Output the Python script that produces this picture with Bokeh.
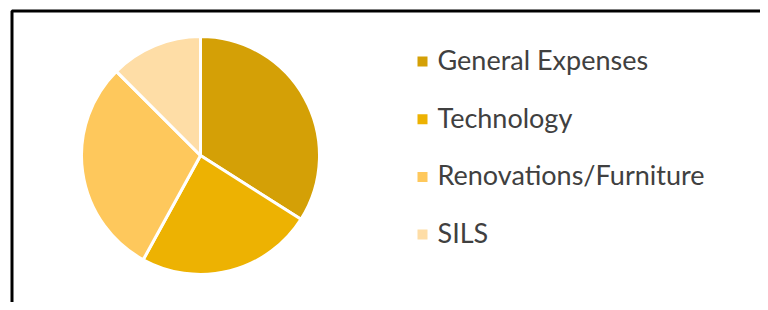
import math
from bokeh.plotting import figure
from bokeh.models import Range1d, BoxAnnotation, ColumnDataSource
from bokeh.core.properties import value
from bokeh.embed import file_html
from bokeh.resources import INLINE

categories = ["General Expenses", "Technology", "Renovations/Furniture", "SILS"]
shares = [34.0, 24.0, 29.5, 12.5]
colors = ["#D4A006", "#EDB202", "#FEC85C", "#FEDDA6"]

W, H = 760, 302
p = figure(width=W, height=H, output_backend="svg", toolbar_location=None,
           x_range=Range1d(0, W), y_range=Range1d(0, H), min_border=0,
           background_fill_color="white", border_fill_color="white")
p.axis.visible = False
p.grid.visible = False
p.outline_line_color = None

# pie
total = sum(shares)
starts, ends = [], []
cum = 0.0
for s in shares:
    starts.append(math.pi / 2 - 2 * math.pi * cum / total)
    cum += s
    ends.append(math.pi / 2 - 2 * math.pi * cum / total)

cx, cy, r = 200, 147, 119
src = ColumnDataSource(dict(cat=categories, share=shares, color=colors,
                            start=starts, end=ends,
                            x=[cx] * len(shares), y=[cy] * len(shares)))
p.wedge(x="x", y="y", radius=r, start_angle="start", end_angle="end",
        direction="clock", fill_color="color", line_color="white",
        line_width=3, source=src)

# legend (manual)
leg_top, leg_step = 243, 57.7
ly = [leg_top - i * leg_step for i in range(len(categories))]
lsrc = ColumnDataSource(dict(cat=categories, color=colors, y=ly,
                             sx=[422] * len(categories),
                             tx=[437] * len(categories),
                             my=[v - 2 for v in ly]))
p.scatter(x="sx", y="my", marker="square", size=10, fill_color="color",
          line_color=None, source=lsrc)
p.text(x="tx", y="y", text="cat", text_baseline="middle", text_align="left",
       text_font=value("Lato"), text_font_size="27px", text_color="#404040",
       source=lsrc)

# frame border decoration
p.add_layout(BoxAnnotation(left=11.5, right=W + 20, top=H - 10.5, bottom=-50,
                           fill_alpha=0, line_color="black", line_alpha=1.0,
                           line_width=3, propagate_hover=False))

open("out.html", "w").write(file_html(p, INLINE))
